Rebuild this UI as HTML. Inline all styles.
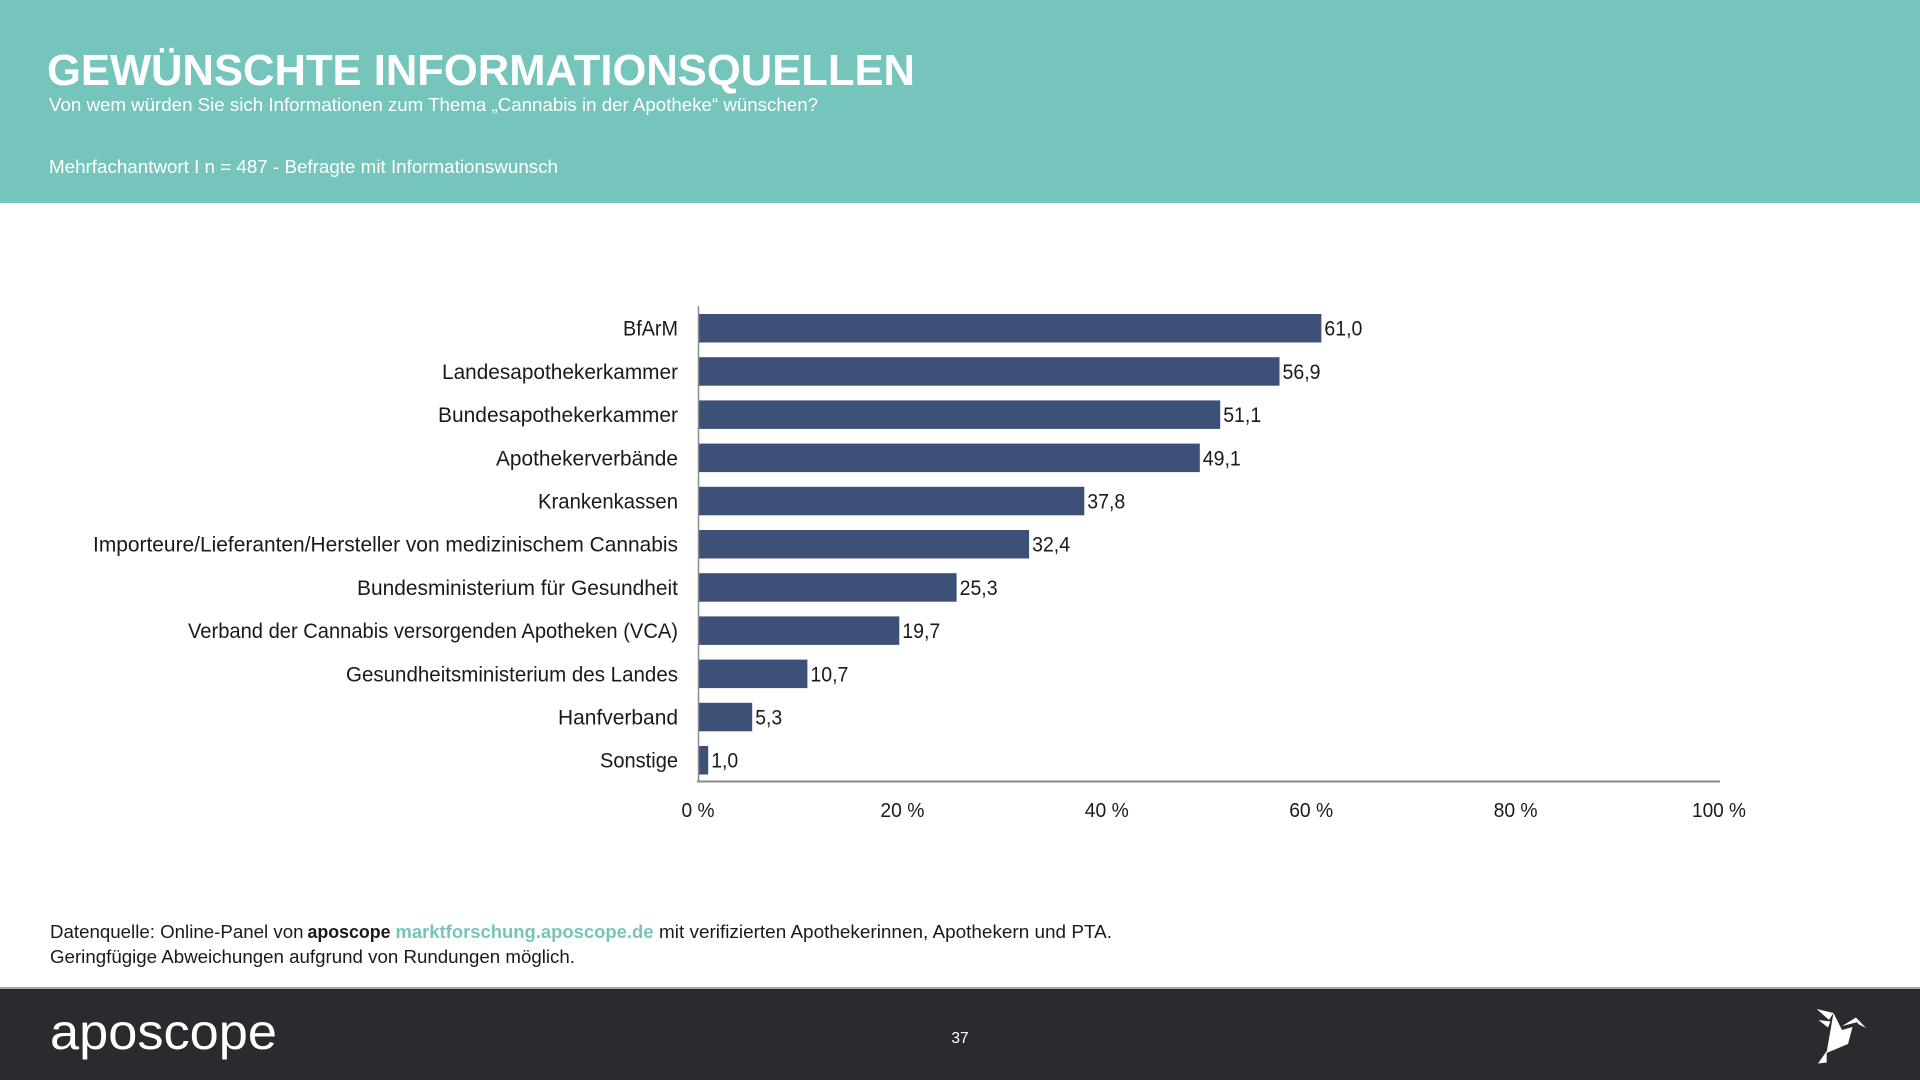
<!DOCTYPE html>
<html><head><meta charset="utf-8"><style>
html,body{margin:0;padding:0;background:#fff;}
svg{display:block;}
text{font-family:"Liberation Sans",sans-serif;}
</style></head><body>
<svg width="1920" height="1080" viewBox="0 0 1920 1080" xmlns="http://www.w3.org/2000/svg">
<rect x="0" y="0" width="1920" height="1080" fill="#ffffff"/>
<!-- header -->
<rect x="0" y="0" width="1920" height="203" fill="#76c5bc"/>
<text x="47" y="85" font-size="44" font-weight="bold" fill="#ffffff" textLength="868" lengthAdjust="spacingAndGlyphs">GEWÜNSCHTE INFORMATIONSQUELLEN</text>
<text x="49" y="111" font-size="18" fill="#ffffff" textLength="769" lengthAdjust="spacingAndGlyphs">Von wem würden Sie sich Informationen zum Thema „Cannabis in der Apotheke“ wünschen?</text>
<text x="49" y="173" font-size="18" fill="#ffffff" textLength="509" lengthAdjust="spacingAndGlyphs">Mehrfachantwort I n = 487 - Befragte mit Informationswunsch</text>

<!-- bars -->
<g fill="#3d5178">
<rect x="698" y="314" width="623.4" height="28.5"/>
<rect x="698" y="357.2" width="581.5" height="28.5"/>
<rect x="698" y="400.4" width="522.2" height="28.5"/>
<rect x="698" y="443.6" width="501.8" height="28.5"/>
<rect x="698" y="486.8" width="386.3" height="28.5"/>
<rect x="698" y="530.0" width="331.1" height="28.5"/>
<rect x="698" y="573.2" width="258.6" height="28.5"/>
<rect x="698" y="616.4" width="201.3" height="28.5"/>
<rect x="698" y="659.6" width="109.4" height="28.5"/>
<rect x="698" y="702.8" width="54.2" height="28.5"/>
<rect x="698" y="746.0" width="10.2" height="28.5"/>
</g>

<!-- axes -->
<line x1="698.5" y1="306" x2="698.5" y2="782" stroke="#8a8a8a" stroke-width="1.5"/>
<line x1="697" y1="781.5" x2="1720" y2="781.5" stroke="#8a8a8a" stroke-width="2"/>

<!-- category labels -->
<g font-size="21" fill="#1a1a1a" text-anchor="end">
<text x="678" y="335.7" textLength="55" lengthAdjust="spacingAndGlyphs">BfArM</text>
<text x="678" y="378.9" textLength="236" lengthAdjust="spacingAndGlyphs">Landesapothekerkammer</text>
<text x="678" y="422.1" textLength="240" lengthAdjust="spacingAndGlyphs">Bundesapothekerkammer</text>
<text x="678" y="465.3" textLength="182" lengthAdjust="spacingAndGlyphs">Apothekerverbände</text>
<text x="678" y="508.5" textLength="140" lengthAdjust="spacingAndGlyphs">Krankenkassen</text>
<text x="678" y="551.7" textLength="585" lengthAdjust="spacingAndGlyphs">Importeure/Lieferanten/Hersteller von medizinischem Cannabis</text>
<text x="678" y="594.9" textLength="321" lengthAdjust="spacingAndGlyphs">Bundesministerium für Gesundheit</text>
<text x="678" y="638.1" textLength="490" lengthAdjust="spacingAndGlyphs">Verband der Cannabis versorgenden Apotheken (VCA)</text>
<text x="678" y="681.3" textLength="332" lengthAdjust="spacingAndGlyphs">Gesundheitsministerium des Landes</text>
<text x="678" y="724.5" textLength="120" lengthAdjust="spacingAndGlyphs">Hanfverband</text>
<text x="678" y="767.7" textLength="78" lengthAdjust="spacingAndGlyphs">Sonstige</text>
</g>

<!-- value labels -->
<g font-size="21" fill="#1a1a1a">
<text x="1324.4" y="335.7" textLength="38" lengthAdjust="spacingAndGlyphs">61,0</text>
<text x="1282.5" y="378.9" textLength="38" lengthAdjust="spacingAndGlyphs">56,9</text>
<text x="1223.2" y="422.1" textLength="38" lengthAdjust="spacingAndGlyphs">51,1</text>
<text x="1202.8" y="465.3" textLength="38" lengthAdjust="spacingAndGlyphs">49,1</text>
<text x="1087.3" y="508.5" textLength="38" lengthAdjust="spacingAndGlyphs">37,8</text>
<text x="1032.1" y="551.7" textLength="38" lengthAdjust="spacingAndGlyphs">32,4</text>
<text x="959.6" y="594.9" textLength="38" lengthAdjust="spacingAndGlyphs">25,3</text>
<text x="902.3" y="638.1" textLength="38" lengthAdjust="spacingAndGlyphs">19,7</text>
<text x="810.4" y="681.3" textLength="38" lengthAdjust="spacingAndGlyphs">10,7</text>
<text x="755.2" y="724.5" textLength="27" lengthAdjust="spacingAndGlyphs">5,3</text>
<text x="711.2" y="767.7" textLength="27" lengthAdjust="spacingAndGlyphs">1,0</text>
</g>

<!-- x tick labels -->
<g font-size="20" fill="#1a1a1a" text-anchor="middle">
<text x="698" y="817" textLength="33" lengthAdjust="spacingAndGlyphs">0 %</text>
<text x="902.4" y="817" textLength="44" lengthAdjust="spacingAndGlyphs">20 %</text>
<text x="1106.8" y="817" textLength="44" lengthAdjust="spacingAndGlyphs">40 %</text>
<text x="1311.2" y="817" textLength="44" lengthAdjust="spacingAndGlyphs">60 %</text>
<text x="1515.6" y="817" textLength="44" lengthAdjust="spacingAndGlyphs">80 %</text>
<text x="1719" y="817" textLength="54" lengthAdjust="spacingAndGlyphs">100 %</text>
</g>

<!-- source note -->
<g font-size="18.5" fill="#1a1a1a">
<text x="50" y="938" textLength="253.5" lengthAdjust="spacingAndGlyphs">Datenquelle: Online-Panel von</text>
<text x="307.5" y="938" font-weight="bold" textLength="83" lengthAdjust="spacingAndGlyphs">aposcope</text>
<text x="395.5" y="938" font-weight="bold" fill="#76c5bc" textLength="258" lengthAdjust="spacingAndGlyphs">marktforschung.aposcope.de</text>
<text x="659" y="938" textLength="453" lengthAdjust="spacingAndGlyphs">mit verifizierten Apothekerinnen, Apothekern und PTA.</text>
<text x="50" y="963" textLength="525" lengthAdjust="spacingAndGlyphs">Geringfügige Abweichungen aufgrund von Rundungen möglich.</text>
</g>

<!-- footer -->
<rect x="0" y="988" width="1920" height="92" fill="#2a2b2f"/>
<rect x="0" y="987" width="1920" height="2" fill="#a9a9a9"/>
<text x="50" y="1049" font-size="50" fill="#ffffff" textLength="227" lengthAdjust="spacingAndGlyphs">aposcope</text>
<text x="960" y="1043" font-size="15.5" fill="#ffffff" text-anchor="middle">37</text>

<!-- origami bird -->
<g fill="#ffffff">
<polygon points="1816.7,1009 1833.5,1013 1829,1020"/>
<polygon points="1818.5,1020 1830.5,1021.5 1828,1027.5"/>
<polygon points="1833.5,1013 1826.5,1053 1848,1044 1852.5,1027 1842,1030"/>
<polygon points="1842,1026 1856,1017.5 1858,1022"/>
<polygon points="1856,1017.5 1866,1028 1858,1024"/>
<polygon points="1818,1063.5 1826.7,1051 1826.7,1062.5"/>
</g>
</svg>
</body></html>
